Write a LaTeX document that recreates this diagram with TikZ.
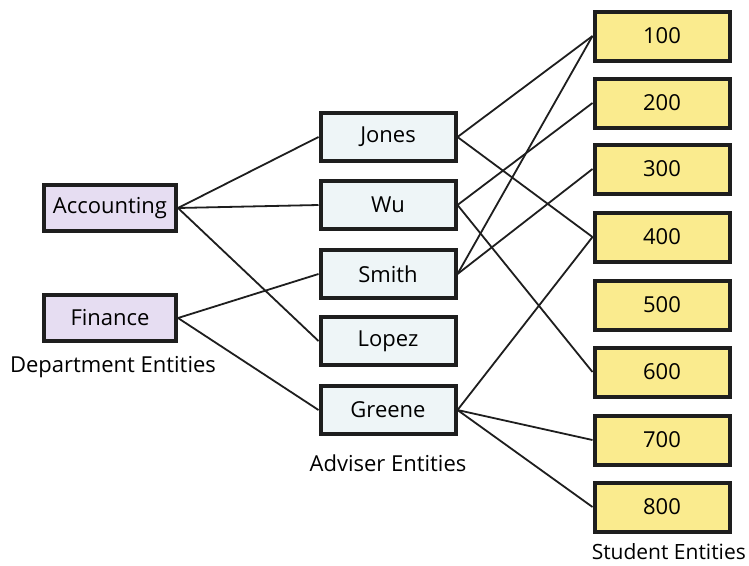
\documentclass[tikz,border=0pt]{standalone}
\usepackage{fontspec}
\setmainfont{Open Sans}
\definecolor{deptfill}{HTML}{E6DDF2}
\definecolor{advfill}{HTML}{EEF5F7}
\definecolor{stufill}{HTML}{FAEB8E}
\definecolor{edgecol}{HTML}{1E1E1E}
\begin{document}
\begin{tikzpicture}[x=1pt,y=-1pt,
  ent/.style={draw=edgecol,line width=4pt,inner sep=0pt,font=\fontsize{22}{26}\selectfont},
  dept/.style={ent,fill=deptfill,minimum width=132pt,minimum height=46pt},
  adv/.style={ent,fill=advfill,minimum width=135pt,minimum height=48pt},
  stu/.style={ent,fill=stufill,minimum width=135pt,minimum height=49pt},
  lab/.style={font=\fontsize{22}{26}\selectfont,inner sep=0pt},
  link/.style={draw=edgecol,line width=1.8pt}]
\useasboundingbox[fill=white] (0,0) rectangle (749,565);
\node[dept] (acc) at (110,208) {Accounting};
\node[dept] (fin) at (110,318) {Finance};
\node[lab] (deptlab) at (113,367) {Department Entities};
\node[adv] (jones) at (388,137) {Jones};
\node[adv] (wu) at (388,205) {Wu};
\node[adv] (smith) at (388,274) {Smith};
\node[adv] (lopez) at (388,341) {Lopez};
\node[adv] (greene) at (388,410) {Greene};
\node[lab] (advlab) at (388,463) {Adviser Entities};
\node[stu] (s100) at (662,36) {100};
\node[stu] (s200) at (662,103) {200};
\node[stu] (s300) at (662,169) {300};
\node[stu] (s400) at (662,237) {400};
\node[stu] (s500) at (662,305) {500};
\node[stu] (s600) at (662,372) {600};
\node[stu] (s700) at (662,440) {700};
\node[stu] (s800) at (662,507) {800};
\node[lab,anchor=east,font=\fontsize{21}{25}\selectfont] (stulab) at (746,552) {Student Entities};
\foreach \a/\b in {acc/jones,acc/wu,acc/lopez,fin/smith,fin/greene}
  \draw[link] (\a.east) -- (\b.west);
\foreach \a/\b in {jones/s100,jones/s400,wu/s200,wu/s600,smith/s100,smith/s300,greene/s400,greene/s700,greene/s800}
  \draw[link] (\a.east) -- (\b.west);
\end{tikzpicture}
\end{document}
